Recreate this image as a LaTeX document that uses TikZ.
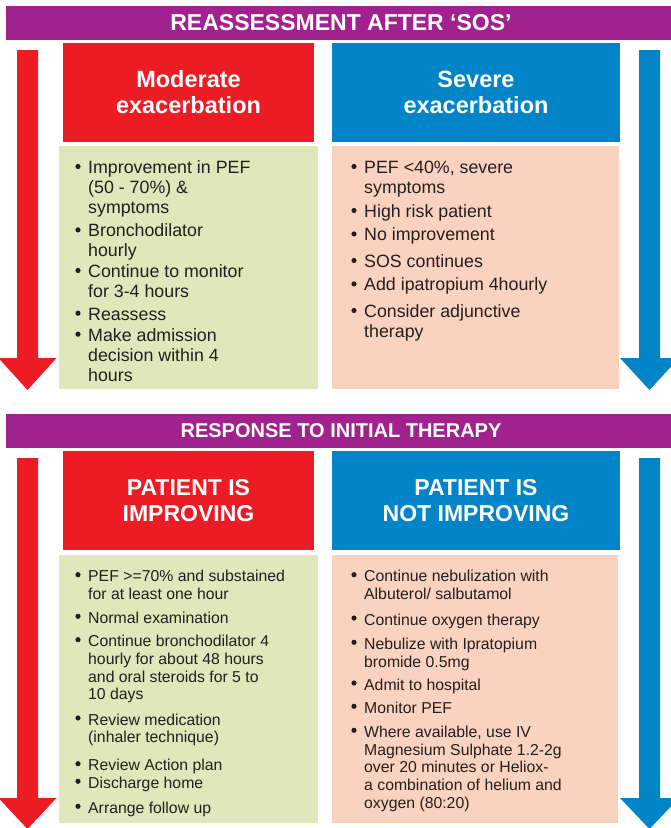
\documentclass[tikz,border=0pt]{standalone}
\usepackage{fontspec}
\setmainfont{Liberation Sans}
\definecolor{purp}{RGB}{161,34,142}
\definecolor{redc}{RGB}{237,28,36}
\definecolor{bluec}{RGB}{2,132,201}
\definecolor{greenc}{RGB}{222,232,186}
\definecolor{peachc}{RGB}{250,211,192}
\definecolor{txt}{RGB}{35,31,32}
\newcommand{\rowsof}[1]{\begin{tabular}[t]{@{}l@{}}#1\end{tabular}}
\begin{document}
\begin{tikzpicture}[x=1pt,y=1pt,
  band/.style={fill=purp, inner sep=0pt, minimum width=670pt, minimum height=34pt, text=white, font=\bfseries\fontsize{23}{26}\selectfont},
  head/.style={inner sep=0pt, minimum height=99pt, text=white, align=center, font=\bfseries\fontsize{23.5}{26}\selectfont},
  panel/.style={inner sep=0pt, draw=none},
  itemtop/.style={anchor=base west, inner sep=0pt, text=txt, font=\fontsize{17.8}{20}\selectfont},
  itembot/.style={anchor=base west, inner sep=0pt, text=txt, font=\fontsize{15.8}{17.7}\selectfont},
  bul/.style={fill=txt}
]
\useasboundingbox (0,0) rectangle (670,-828);
\fill[white] (0,0) rectangle (670,-828);

% title bands
\node[band] (t1) at (341,-23) {REASSESSMENT AFTER ‘SOS’};
\node[band, font=\bfseries\fontsize{20}{24}\selectfont] (t2) at (341,-431) {RESPONSE TO INITIAL THERAPY};

% side arrows
\fill[redc] (17,-50) -- (38,-50) -- (38,-358) -- (56.5,-358) -- (27.5,-390) -- (-1.5,-358) -- (17,-358) -- cycle;
\fill[bluec] (639,-50) -- (660,-50) -- (660,-358) -- (679,-358) -- (649.5,-390) -- (620,-358) -- (639,-358) -- cycle;
\fill[redc] (17,-458) -- (38,-458) -- (38,-798) -- (56.5,-798) -- (27.5,-829) -- (-1.5,-798) -- (17,-798) -- cycle;
\fill[bluec] (639,-458) -- (660,-458) -- (660,-798) -- (679,-798) -- (649.5,-829) -- (620,-798) -- (639,-798) -- cycle;

% header boxes
\node[head, fill=redc, minimum width=251pt] (mod) at (188.5,-92.5) {Moderate\\exacerbation};
\node[head, fill=bluec, minimum width=288pt] (sev) at (476,-92.5) {Severe\\exacerbation};
\node[head, fill=redc, minimum width=251pt, font=\bfseries\fontsize{23}{26}\selectfont] (imp) at (188.5,-500.5) {PATIENT IS\\IMPROVING};
\node[head, fill=bluec, minimum width=288pt, font=\bfseries\fontsize{23}{26}\selectfont] (nimp) at (476,-500.5) {PATIENT IS\\NOT IMPROVING};

% panels
\node[panel, fill=greenc, minimum width=259pt, minimum height=243pt] (g1) at (188.5,-267.5) {};
\node[panel, fill=peachc, minimum width=287pt, minimum height=243pt] (p1) at (475.5,-267.5) {};
\node[panel, fill=greenc, minimum width=259pt, minimum height=268pt] (g2) at (188.5,-689) {};
\node[panel, fill=peachc, minimum width=286pt, minimum height=268pt] (p2) at (475,-689) {};

% moderate items
\node[itemtop] (m1) at (88,-173.3) {\rowsof{Improvement in PEF\\(50 - 70\%) \&\\symptoms}};
\node[itemtop] (m2) at (88,-236.7) {\rowsof{Bronchodilator\\hourly}};
\node[itemtop] (m3) at (88,-277.3) {\rowsof{Continue to monitor\\for 3-4 hours}};
\node[itemtop] (m4) at (88,-320) {\rowsof{Reassess}};
\node[itemtop] (m5) at (88,-341) {\rowsof{Make admission\\decision within 4\\hours}};

% severe items
\node[itemtop] (s1) at (364,-173.3) {\rowsof{PEF <40\%, severe\\symptoms}};
\node[itemtop] (s2) at (364,-217.3) {\rowsof{High risk patient}};
\node[itemtop] (s3) at (364,-240.7) {\rowsof{No improvement}};
\node[itemtop] (s4) at (364,-267.3) {\rowsof{SOS continues}};
\node[itemtop] (s5) at (364,-290.7) {\rowsof{Add ipatropium 4hourly}};
\node[itemtop] (s6) at (364,-317.3) {\rowsof{Consider adjunctive\\therapy}};

% improving items
\node[itembot] (i1) at (88,-581.7) {\rowsof{PEF >=70\% and substained\\for at least one hour}};
\node[itembot] (i2) at (88,-623.3) {\rowsof{Normal examination}};
\node[itembot] (i3) at (88,-646.7) {\rowsof{Continue bronchodilator 4\\hourly for about 48 hours\\and oral steroids for 5 to\\10 days}};
\node[itembot] (i4) at (88,-725) {\rowsof{Review medication\\(inhaler technique)}};
\node[itembot] (i5) at (88,-770.7) {\rowsof{Review Action plan}};
\node[itembot] (i6) at (88,-788.3) {\rowsof{Discharge home}};
\node[itembot] (i7) at (88,-813.3) {\rowsof{Arrange follow up}};

% not improving items
\node[itembot] (n1) at (364,-581.7) {\rowsof{Continue nebulization with\\Albuterol/ salbutamol}};
\node[itembot] (n2) at (364,-625) {\rowsof{Continue oxygen therapy}};
\node[itembot] (n3) at (364,-649.3) {\rowsof{Nebulize with Ipratopium\\bromide 0.5mg}};
\node[itembot] (n4) at (364,-690) {\rowsof{Admit to hospital}};
\node[itembot] (n5) at (364,-713.3) {\rowsof{Monitor PEF}};
\node[itembot] (n6) at (364,-737.3) {\rowsof{Where available, use IV\\Magnesium Sulphate 1.2-2g\\over 20 minutes or Heliox-\\a combination of helium and\\oxygen (80:20)}};

% bullets
\foreach \n in {m1,m2,m3,m4,m5,s1,s2,s3,s4,s5,s6}
  \fill[bul] ([xshift=-10pt,yshift=6.8pt]\n.base west) circle (2.6pt);
\foreach \n in {i1,i2,i3,i4,i5,i6,i7,n1,n2,n3,n4,n5,n6}
  \fill[bul] ([xshift=-10pt,yshift=7pt]\n.base west) circle (2.6pt);
\end{tikzpicture}
\end{document}
